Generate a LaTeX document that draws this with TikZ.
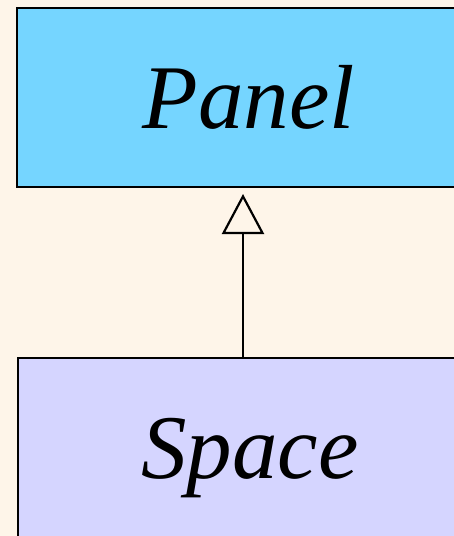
\documentclass[tikz,border=0pt]{standalone}
\usepackage{fontspec}
\setmainfont{Liberation Serif}
\usetikzlibrary{arrows.meta}
\definecolor{paper}{HTML}{FEF5E9}
\definecolor{panelblue}{HTML}{75D5FF}
\definecolor{spacelav}{HTML}{D5D5FF}
\tikzset{
  classbox/.style={draw=black, line width=2.2pt, rectangle, inner sep=0pt,
    minimum width=464pt, font=\fontsize{91}{100}\selectfont\itshape},
  inherit/.style={line width=2.2pt, -{Triangle[open, length=40pt, width=42pt, fill=paper]}}
}
\begin{document}
\begin{tikzpicture}[x=1pt, y=-1pt]
  \fill[paper] (0,0) rectangle (454,536);
  \useasboundingbox (0,0) rectangle (454,536);
  \node[classbox, fill=panelblue, minimum height=179pt] (panel) at (249,97.5) {Panel};
  \node[classbox, fill=spacelav, minimum height=200pt] (space) at (250,458) {Space};
  \draw[inherit] (space.north -| 243,0) -- (243,194);
\end{tikzpicture}
\end{document}
